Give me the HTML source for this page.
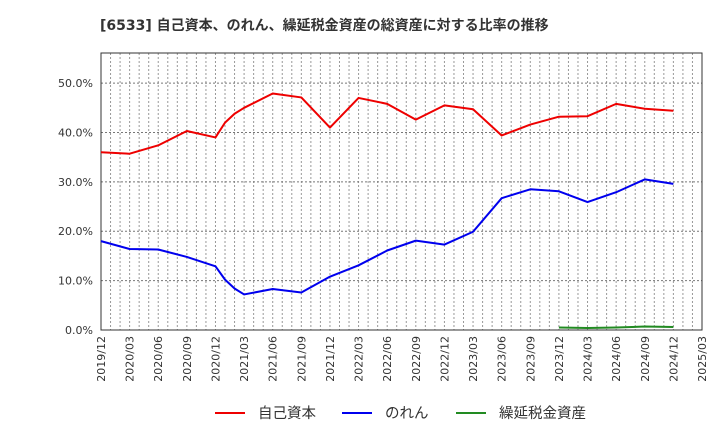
<!DOCTYPE html>
<html><head><meta charset="utf-8"><style>
body{margin:0;background:#fff;font-family:"Liberation Sans","Noto Sans CJK JP",sans-serif}
svg text{font-family:"DejaVu Sans","Noto Sans CJK JP",sans-serif}
</style></head><body>
<svg id="c" width="720" height="440" xmlns="http://www.w3.org/2000/svg">
<text x="100" y="30" font-size="14" font-weight="bold" fill="#333">[6533]  自己資本、のれん、繰延税金資産の総資産に対する比率の推移</text>
<g id="grid"></g><g id="axes"></g><g id="series"></g>
<g>
<line x1="215" y1="413" x2="245" y2="413" stroke="#e00" stroke-width="2"/>
<text x="258" y="418" font-size="14.5" fill="#333">自己資本</text>
<line x1="342" y1="413" x2="372" y2="413" stroke="#00e" stroke-width="2"/>
<text x="385" y="418" font-size="14.5" fill="#333">のれん</text>
<line x1="456" y1="413" x2="486" y2="413" stroke="#228b22" stroke-width="2"/>
<text x="499" y="418" font-size="14.5" fill="#333">繰延税金資産</text>
</g>
</svg>
<script>
const xTickLabels=["2019/12","2020/03","2020/06","2020/09","2020/12","2021/03","2021/06","2021/09","2021/12","2022/03","2022/06","2022/09","2022/12","2023/03","2023/06","2023/09","2023/12","2024/03","2024/06","2024/09","2024/12","2025/03"];
const yTicks=[0,10,20,30,40,50];
const equityMonths=[0,3,6,9,12,13,14,15,18,21,24,27,30,33,36,39,42,45,48,51,54,57,60];
const equityValues=[36.0,35.7,37.4,40.3,39.0,42.0,43.8,45.0,47.9,47.1,41.0,47.0,45.8,42.6,45.5,44.7,39.4,41.6,43.2,43.3,45.8,44.8,44.4];
const goodwillMonths=[0,3,6,9,12,13,14,15,18,21,24,27,30,33,36,39,42,45,48,51,54,57,60];
const goodwillValues=[18.0,16.4,16.3,14.8,12.9,10.2,8.4,7.2,8.3,7.6,10.8,13.1,16.1,18.1,17.3,19.9,26.7,28.5,28.1,25.9,27.9,30.5,29.6];
const dtaMonths=[48,51,54,57,60];
const dtaValues=[0.5,0.4,0.5,0.7,0.6];
const L=101,R=702,T=53,B=330,YMAX=56.1;
const xs=m=>L+m*(R-L)/63, ys=v=>B-v*(B-T)/YMAX;
const NS="http://www.w3.org/2000/svg";
function mk(tag,at,parent){const e=document.createElementNS(NS,tag);for(const k in at)e.setAttribute(k,at[k]);document.getElementById(parent).appendChild(e);return e;}
for(let m=1;m<63;m++){const l=mk('line',{x1:xs(m),x2:xs(m),y1:T,y2:B,stroke:'#999','stroke-dasharray':'2,2','stroke-width':1},'grid');

}
yTicks.forEach(v=>{if(v>0){const l=mk('line',{x1:L,x2:R,y1:ys(v),y2:ys(v),stroke:'#777','stroke-dasharray':'2,2','stroke-width':1},'grid');

}
const t=mk('text',{x:93,y:ys(v)+4,'text-anchor':'end','font-size':11,fill:'#333'},'axes');t.textContent=v.toFixed(1)+'%';

});
xTickLabels.forEach((s,i)=>{const x=xs(i*3);const t=mk('text',{x:0,y:0,transform:`translate(${x+4},336) rotate(-90)`,'text-anchor':'end','font-size':11,fill:'#333'},'axes');t.textContent=s;

});
const box=mk('rect',{x:L,y:T,width:R-L,height:B-T,fill:'none',stroke:'#333','stroke-width':1},'axes');


function line(ms,vs,col,name){const p=mk('polyline',{points:ms.map((m,i)=>xs(m)+','+ys(vs[i])).join(' '),fill:'none',stroke:col,'stroke-width':2,'stroke-linejoin':'round'},'series');

}
line(equityMonths,equityValues,'#e00','equity-ratio-line');
line(goodwillMonths,goodwillValues,'#00e','goodwill-ratio-line');
line(dtaMonths,dtaValues,'#228b22','dta-ratio-line');
</script>
</body></html>
